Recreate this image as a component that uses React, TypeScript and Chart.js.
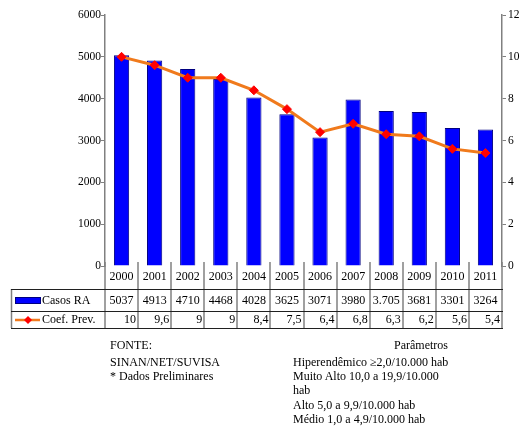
import React, { useEffect, useRef } from "react";
import { Chart, registerables } from "chart.js";

Chart.register(...registerables);

// Série histórica 2000–2011
const years = ["2000", "2001", "2002", "2003", "2004", "2005", "2006", "2007", "2008", "2009", "2010", "2011"];
const casosRA = [5037, 4913, 4710, 4468, 4028, 3625, 3071, 3980, 3705, 3681, 3301, 3264];
const casosText = ["5037", "4913", "4710", "4468", "4028", "3625", "3071", "3980", "3.705", "3681", "3301", "3264"];
const coefPrev = [10, 9.6, 9, 9, 8.4, 7.5, 6.4, 6.8, 6.3, 6.2, 5.6, 5.4];
const coefText = coefPrev.map((v) => String(v).replace(".", ","));
const seriesNames = ["Casos RA", "Coef. Prev."];

const leftMax = 6000;
const leftStep = 1000;
const rightMax = 12;
const rightStep = 2;

const fonteLines = ["FONTE:", "SINAN/NET/SUVISA", "* Dados Preliminares"];
const paramTitle = "Parâmetros";
const paramLines = [
  "Hiperendêmico ≥2,0/10.000 hab",
  "Muito Alto 10,0 a 19,9/10.000",
  "hab",
  "Alto 5,0 a 9,9/10.000 hab",
  "Médio 1,0 a 4,9/10.000 hab",
];

const FONT = '"Liberation Serif", "DejaVu Serif", serif';
const BAR_BLUE = "#0000FF";
const BAR_EDGE = "#000080";
const LINE_ORANGE = "#F07A1C";
const MARK_RED = "#FF0000";
const AXIS_GRAY = "#808080";

// Data table drawn under the plot, aligned to the category scale
const dataTablePlugin = {
  id: "dataTable",
  afterDraw(chart: any) {
    const ctx = chart.ctx as CanvasRenderingContext2D;
    const xs = chart.scales.x;
    const area = chart.chartArea;
    const n = years.length;
    const step = (area.right - area.left) / n;

    const tableLeft = 11;
    const tableRight = area.right + 1;
    const yTopDiv = area.bottom - 4;
    const yLine1 = 289;
    const yLine2 = 311;
    const yLine3 = 328;
    const yYears = 277;
    const yCasos = 300.5;
    const yCoef = 320;

    ctx.save();

    // vertical separators
    ctx.strokeStyle = AXIS_GRAY;
    ctx.lineWidth = 1.5;
    for (let i = 0; i <= n; i++) {
      const x = Math.round(area.left + i * step);
      ctx.beginPath();
      ctx.moveTo(x, yTopDiv);
      ctx.lineTo(x, yLine3);
      ctx.stroke();
    }
    ctx.beginPath();
    ctx.moveTo(tableLeft + 0.5, yLine1);
    ctx.lineTo(tableLeft + 0.5, yLine3);
    ctx.stroke();

    // horizontal rules
    ctx.strokeStyle = "#202020";
    ctx.lineWidth = 1;
    [yLine1, yLine2, yLine3].forEach((y) => {
      ctx.beginPath();
      ctx.moveTo(tableLeft, y + 0.5);
      ctx.lineTo(tableRight, y + 0.5);
      ctx.stroke();
    });

    // cell text
    ctx.fillStyle = "#000";
    ctx.font = `12px ${FONT}`;
    ctx.textBaseline = "middle";
    for (let i = 0; i < n; i++) {
      const cx = xs.getPixelForValue(i);
      const rx = cx + step / 2 - 2;
      ctx.textAlign = "center";
      ctx.fillText(years[i], cx, yYears);
      ctx.fillText(casosText[i], cx, yCasos);
      ctx.textAlign = "right";
      ctx.fillText(coefText[i], rx, yCoef);
    }

    // row headers with legend keys
    ctx.textAlign = "left";
    ctx.fillText(seriesNames[0], 42, yCasos);
    ctx.fillText(seriesNames[1], 42, yCoef);

    ctx.fillStyle = BAR_BLUE;
    ctx.strokeStyle = BAR_EDGE;
    ctx.lineWidth = 1;
    ctx.fillRect(15, 297.5, 25, 6);
    ctx.strokeRect(15.5, 297.5, 25, 6);

    ctx.strokeStyle = LINE_ORANGE;
    ctx.lineWidth = 2.5;
    ctx.beginPath();
    ctx.moveTo(15, yCoef);
    ctx.lineTo(40, yCoef);
    ctx.stroke();
    ctx.fillStyle = MARK_RED;
    ctx.beginPath();
    ctx.moveTo(28, yCoef - 4);
    ctx.lineTo(32, yCoef);
    ctx.lineTo(28, yCoef + 4);
    ctx.lineTo(24, yCoef);
    ctx.closePath();
    ctx.fill();

    ctx.restore();
  },
};

export default function App() {
  const canvasRef = useRef<HTMLCanvasElement | null>(null);

  useEffect(() => {
    if (!canvasRef.current) return;
    const chart = new Chart(canvasRef.current, {
      type: "bar",
      data: {
        labels: years,
        datasets: [
          {
            type: "line",
            label: seriesNames[1],
            data: coefPrev,
            yAxisID: "y1",
            borderColor: LINE_ORANGE,
            borderWidth: 3,
            tension: 0,
            pointStyle: "rectRot",
            pointRadius: 4.5,
            pointBackgroundColor: MARK_RED,
            pointBorderColor: MARK_RED,
            pointBorderWidth: 1,
            order: 0,
          } as any,
          {
            type: "bar",
            label: seriesNames[0],
            data: casosRA,
            yAxisID: "y",
            backgroundColor: BAR_BLUE,
            borderColor: BAR_EDGE,
            borderWidth: 1,
            barPercentage: 0.46,
            categoryPercentage: 1,
            order: 1,
          },
        ],
      },
      options: {
        responsive: false,
        animation: false,
        devicePixelRatio: 1,
        layout: { padding: { top: 15, bottom: 161, left: 0, right: 0 } },
        plugins: {
          legend: { display: false },
          tooltip: { enabled: false },
        },
        scales: {
          x: {
            display: false,
            offset: true,
          },
          y: {
            position: "left",
            min: 0,
            max: leftMax,
            ticks: {
              stepSize: leftStep,
              color: "#000",
              padding: 0,
              font: { family: FONT, size: 11.5 },
              callback: (v: any) => String(v),
            },
            grid: {
              drawOnChartArea: false,
              drawTicks: true,
              tickLength: 4,
              color: AXIS_GRAY,
            },
            border: { display: true, color: AXIS_GRAY, width: 1.5 },
            afterFit: (s: any) => {
              s.width = 105;
            },
          },
          y1: {
            position: "right",
            min: 0,
            max: rightMax,
            ticks: {
              stepSize: rightStep,
              color: "#000",
              padding: 2,
              font: { family: FONT, size: 11.5 },
              callback: (v: any) => String(v),
            },
            grid: {
              drawOnChartArea: false,
              drawTicks: true,
              tickLength: 4,
              color: AXIS_GRAY,
            },
            border: { display: true, color: AXIS_GRAY, width: 1.5 },
            afterFit: (s: any) => {
              s.width = 18;
            },
          },
        },
      },
      plugins: [dataTablePlugin],
    });
    return () => chart.destroy();
  }, []);

  const textStyle: React.CSSProperties = {
    position: "absolute",
    fontFamily: FONT,
    fontSize: "12px",
    lineHeight: "14px",
    color: "#000",
    whiteSpace: "nowrap",
    margin: 0,
  };

  const fonteTops = [338, 355, 369];
  const paramTops = [355, 369, 383, 398, 412];

  return (
    <div style={{ position: "absolute", left: 0, top: 0, width: 520, height: 427, background: "#fff" }}>
      <canvas ref={canvasRef} width={520} height={427} style={{ display: "block" }} />
      {fonteLines.map((t, i) => (
        <div key={"f" + i} style={{ ...textStyle, left: 110, top: fonteTops[i] }}>
          {t}
        </div>
      ))}
      <div style={{ ...textStyle, left: 293, width: 155, top: 338, textAlign: "right" }}>{paramTitle}</div>
      {paramLines.map((t, i) => (
        <div key={"p" + i} style={{ ...textStyle, left: 293, top: paramTops[i] }}>
          {t}
        </div>
      ))}
    </div>
  );
}
